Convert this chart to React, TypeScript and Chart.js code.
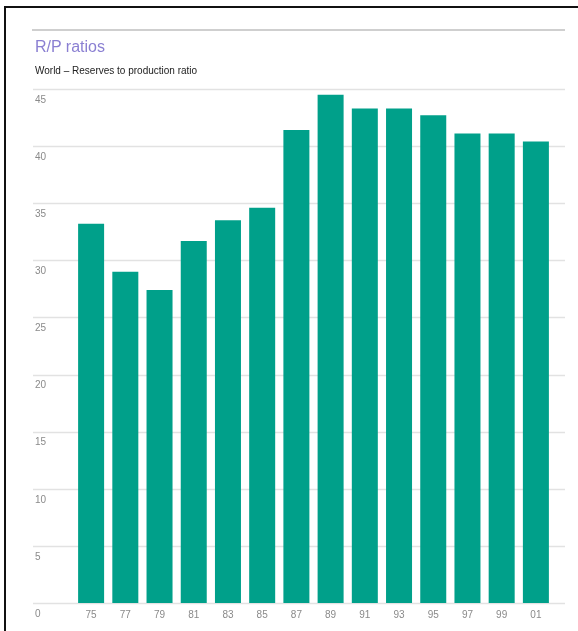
import React, { useEffect, useRef } from "react";
import { Chart, registerables } from "chart.js";

Chart.register(...registerables);

const categories = ["75", "77", "79", "81", "83", "85", "87", "89", "91", "93", "95", "97", "99", "01"];
const rpRatio = [33.2, 29.0, 27.4, 31.7, 33.5, 34.6, 41.4, 44.5, 43.3, 43.3, 42.7, 41.1, 41.1, 40.4];
const yTicks = [0, 5, 10, 15, 20, 25, 30, 35, 40, 45];

const gridPlugin = {
  id: "wideGrid",
  beforeDatasetsDraw(chart: any) {
    const ctx = chart.ctx;
    const y = chart.scales.y;
    ctx.save();
    ctx.strokeStyle = "#e2e2e2";
    ctx.lineWidth = 1.5;
    yTicks.forEach((v) => {
      const py = Math.round(y.getPixelForValue(v)) + 0.5;
      ctx.beginPath();
      ctx.moveTo(33, py);
      ctx.lineTo(565, py);
      ctx.stroke();
    });
    ctx.restore();
  },
};

export default function App() {
  const ref = useRef<HTMLCanvasElement>(null);
  useEffect(() => {
    const chart = new Chart(ref.current!, {
      type: "bar",
      data: {
        labels: categories,
        datasets: [
          {
            data: rpRatio,
            backgroundColor: "#00a08a",
            borderWidth: 0,
            barPercentage: 0.76,
            categoryPercentage: 1,
          },
        ],
      },
      options: {
        animation: false,
        responsive: false,
        maintainAspectRatio: false,
        layout: { padding: { left: 35, right: 25, top: 89, bottom: 0 } },
        plugins: { legend: { display: false }, tooltip: { enabled: false } },
        scales: {
          x: {
            grid: { display: false, drawTicks: false },
            border: { display: false },
            ticks: {
              color: "#8a8a8a",
              font: { family: "Liberation Sans", size: 10 },
              padding: 6,
              maxRotation: 0,
            },
            afterFit(scale: any) {
              scale.height = 28;
            },
          },
          y: {
            min: 0,
            max: 45,
            grid: { display: false, drawTicks: false },
            border: { display: false },
            afterBuildTicks(scale: any) {
              scale.ticks = yTicks.map((v) => ({ value: v }));
            },
            ticks: {
              color: "#8a8a8a",
              font: { family: "Liberation Sans", size: 10 },
              crossAlign: "far",
              labelOffset: 11,
              padding: 0,
            },
            afterFit(scale: any) {
              scale.width = 39;
            },
          },
        },
      },
      plugins: [gridPlugin],
    });
    return () => chart.destroy();
  }, []);

  return (
    <div style={{ position: "fixed", left: 0, top: 0, width: 578, height: 631, background: "#fff", overflow: "hidden" }}>
      <canvas ref={ref} width={578} height={631} style={{ position: "absolute", left: 0, top: 0 }} />
      <div style={{ position: "absolute", left: 4, top: 6, width: 574, height: 2, background: "#111" }} />
      <div style={{ position: "absolute", left: 4, top: 6, width: 2, height: 625, background: "#111" }} />
      <div style={{ position: "absolute", left: 32, top: 29, width: 533, height: 2, background: "#cfcfcf" }} />
      <div
        style={{
          position: "absolute",
          left: 35,
          top: 38,
          fontFamily: "Liberation Sans",
          fontSize: 16,
          color: "#8a7fd2",
          whiteSpace: "nowrap",
        }}
      >
        R/P ratios
      </div>
      <div
        style={{
          position: "absolute",
          left: 35,
          top: 65,
          fontFamily: "Liberation Sans",
          fontSize: 10,
          color: "#222",
          whiteSpace: "nowrap",
        }}
      >
        World – Reserves to production ratio
      </div>
    </div>
  );
}
